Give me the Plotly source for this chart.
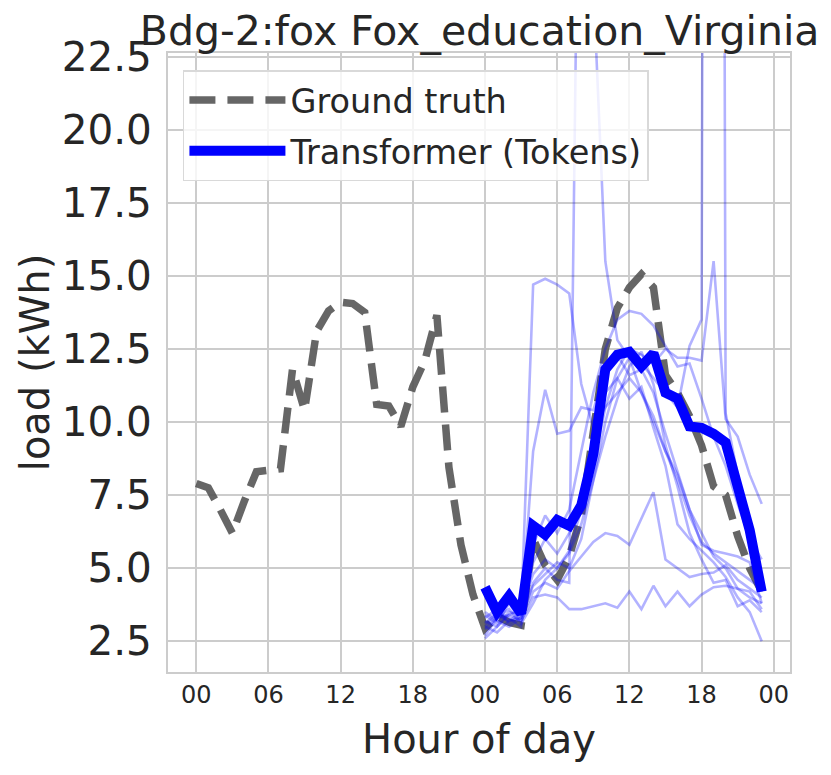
import plotly.graph_objects as go

TITLE = 'Bdg-2:fox Fox_education_Virginia'

# hours over the two-day window, and day two only
hours = list(range(48))
hours_day2 = list(range(24, 48))

tick_vals = [0, 6, 12, 18, 24, 30, 36, 42, 48]
tick_text = ['00', '06', '12', '18', '00', '06', '12', '18', '00']

ground_truth = [7.9, 7.75, 7.0, 6.2, 7.3, 8.3, 8.35, 8.4, 11.8, 10.4, 13.1, 13.8,
                14.1, 14.05, 13.75, 10.6, 10.55, 9.85, 11.2, 12.1, 13.65, 8.45, 5.8, 4.1,
                2.95, 3.35, 3.15, 3.05, 6.0, 5.1, 4.6, 5.4, 6.8, 9.8, 12.5, 13.9,
                14.6, 15.05, 14.6, 11.6, 11.0, 10.2, 9.2, 7.8, 7.5, 6.1, 5.0, 4.2]

transformer_mean = [4.35, 3.5, 4.05, 3.45, 6.45, 6.15, 6.65, 6.45, 7.15, 8.9, 11.8, 12.3,
                    12.4, 11.9, 12.35, 11.0, 10.8, 9.85, 9.8, 9.6, 9.3, 7.8, 6.3, 4.2]

# individual sampled forecasts (day two)
sample_a = [2.9, 3.3, 3.4, 3.2, 4.0, 4.1, 4.0, 3.6, 3.6, 3.7, 3.8, 3.65,
            4.2, 3.6, 4.4, 3.7, 4.2, 3.7, 4.1, 4.35, 4.4, 4.3, 4.0, 3.8]
sample_b = [3.0, 3.4, 3.2, 3.3, 4.2, 4.5, 4.3, 4.9, 5.4, 5.9, 6.2, 6.1,
            5.8, 6.7, 7.6, 5.3, 5.0, 4.7, 4.8, 4.85, 5.1, 4.6, 4.3, 4.0]
sample_c = [3.2, 3.0, 3.5, 3.4, 14.7, 14.9, 14.7, 14.4, 11.3, 9.8, 10.5, 11.0,
            11.5, 11.0, 10.2, 9.0, 8.0, 6.8, 5.9, 5.5, 5.2, 4.9, 4.6, 4.3]
sample_d = [3.4, 3.1, 3.8, 3.2, 4.5, 5.0, 4.6, 4.5, 38.0, 25.0, 15.5, 12.8,
            12.2, 11.0, 10.0, 9.0, 8.2, 7.0, 6.2, 5.4, 5.0, 4.3, 4.2, 3.6]
sample_e = [2.7, 3.3, 3.6, 3.1, 3.8, 4.6, 5.0, 5.5, 6.5, 8.0, 10.0, 11.5,
            12.2, 12.0, 11.5, 11.0, 10.5, 12.6, 13.5, 165.0, 10.3, 8.2, 6.0, 4.2]
sample_f = [3.1, 3.5, 3.3, 3.0, 5.2, 6.0, 5.5, 6.2, 7.0, 8.5, 10.5, 11.8,
            12.5, 12.3, 12.0, 12.5, 12.2, 12.2, 12.1, 15.5, 10.1, 9.5, 8.2, 7.2]
sample_g = [3.5, 3.2, 3.0, 3.3, 5.8, 6.8, 6.2, 7.0, 9.0, 11.0, 12.5, 13.5,
            13.8, 13.7, 13.3, 12.6, 11.9, 12.0, 10.8, 9.5, 8.5, 7.2, 6.0, 5.3]
sample_h = [2.6, 3.0, 3.4, 3.6, 4.8, 5.3, 5.0, 5.6, 7.0, 9.5, 11.0, 11.5,
            10.8, 11.2, 9.8, 8.5, 6.5, 6.0, 5.6, 5.2, 4.7, 4.0, 3.5, 2.5]
sample_i = [3.3, 3.6, 3.1, 3.4, 9.0, 11.1, 9.6, 9.7, 10.5, 10.4, 11.8, 12.3,
            11.6, 11.8, 11.0, 9.6, 8.3, 7.0, 5.8, 5.6, 5.5, 5.4, 5.2, 3.8]
sample_j = [3.0, 2.8, 3.2, 3.5, 4.4, 4.8, 5.2, 5.0, 6.0, 8.0, 9.5, 10.8,
            11.9, 12.4, 11.3, 9.2, 7.8, 6.2, 5.3, 4.5, 4.6, 3.7, 3.9, 3.5]

samples = [sample_a, sample_b, sample_c, sample_d, sample_e,
           sample_f, sample_g, sample_h, sample_i, sample_j]

TEXT = '#262626'
GRID = '#cccccc'
FONT = 'DejaVu Sans'

fig = go.Figure()

fig.add_trace(go.Scatter(x=hours, y=ground_truth, mode='lines', name='Ground truth',
                         legendgroup='gt',
                         line=dict(color='rgba(85,85,85,0.9)', width=7.5, dash='26px,12px')))

for s in samples:
    fig.add_trace(go.Scatter(x=hours_day2, y=s, mode='lines', showlegend=False,
                             hoverinfo='skip',
                             line=dict(color='rgba(0,0,255,0.3)', width=2.6)))

fig.add_trace(go.Scatter(x=hours_day2, y=transformer_mean, mode='lines',
                         name='Transformer (Tokens)', legendgroup='tf',
                         line=dict(color='#0000ff', width=10)))

axis_common = dict(showgrid=True, gridcolor=GRID, gridwidth=1.6,
                   showline=True, linecolor=GRID, linewidth=2, mirror=True,
                   zeroline=False, ticks='', automargin=False)

fig.update_xaxes(range=[-2.35, 49.35], tickvals=tick_vals, ticktext=tick_text,
                 tickfont=dict(size=24, color=TEXT),
                 title=dict(text='Hour of day', font=dict(size=40, color=TEXT), standoff=17),
                 ticklabelstandoff=0, **axis_common)
fig.update_yaxes(range=[1.45, 22.62], tickvals=[2.5, 5, 7.5, 10, 12.5, 15, 17.5, 20, 22.5],
                 ticktext=['2.5', '5.0', '7.5', '10.0', '12.5', '15.0', '17.5', '20.0', '22.5'],
                 tickfont=dict(size=40.5, color=TEXT),
                 title=dict(text='load (kWh)', font=dict(size=40, color=TEXT), standoff=0),
                 ticklabelstandoff=6, **axis_common)

fig.update_layout(
    width=831, height=775,
    margin=dict(l=160, r=49, t=45, b=111),
    paper_bgcolor='white', plot_bgcolor='white',
    font=dict(family=FONT, color=TEXT),
    title=dict(text=TITLE, font=dict(size=41, color=TEXT), x=0.5675, xanchor='center',
               y=0.989, yanchor='top'),
    legend=dict(x=0.024, y=0.972, xanchor='left', yanchor='top',
                bgcolor='rgba(255,255,255,0.8)', bordercolor='#d9d9d9', borderwidth=1.5,
                font=dict(size=33.5, color=TEXT), itemwidth=96,
                traceorder='grouped', tracegroupgap=4),
    showlegend=True,
)

fig.write_html('out.html')
